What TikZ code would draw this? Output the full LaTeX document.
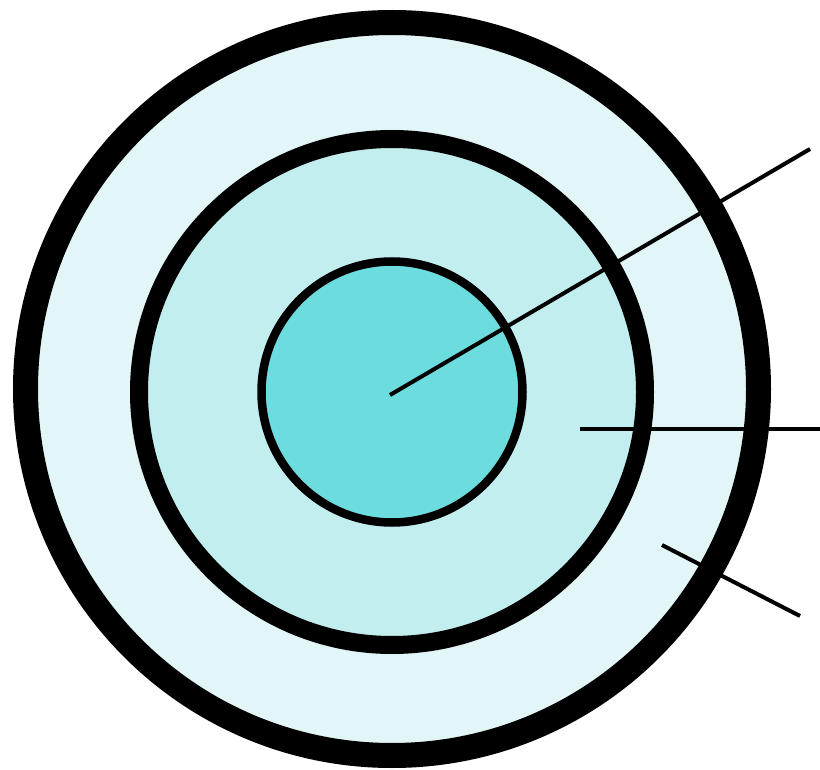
\documentclass[tikz,border=0pt]{standalone}
\definecolor{outerc}{HTML}{E3F6F7}
\definecolor{midc}{HTML}{C3EEEF}
\definecolor{innerc}{HTML}{6DDCDF}
\begin{document}
\begin{tikzpicture}[x=1pt,y=-1pt,
  ring/.style={draw=black},
  leader/.style={line width=4pt, draw=black}]
\useasboundingbox (0,0) rectangle (820,770);
\fill[white] (0,0) rectangle (820,770);
\coordinate (co) at (392,389);
\coordinate (c) at (392,392);
\draw[ring, fill=outerc, line width=25pt] (co) circle[radius=366.5];
\draw[ring, fill=midc, line width=18pt] (c) circle[radius=253];
\draw[ring, fill=innerc, line width=8.5pt] (c) circle[radius=130.5];
\coordinate (l1a) at (390,395);
\coordinate (l1b) at (810,149);
\coordinate (l2a) at (580,429);
\coordinate (l2b) at (820,429);
\coordinate (l3a) at (662,545);
\coordinate (l3b) at (800,616);
\draw[leader] (l1a) -- (l1b);
\draw[leader] (l2a) -- (l2b);
\draw[leader] (l3a) -- (l3b);
\end{tikzpicture}
\end{document}
